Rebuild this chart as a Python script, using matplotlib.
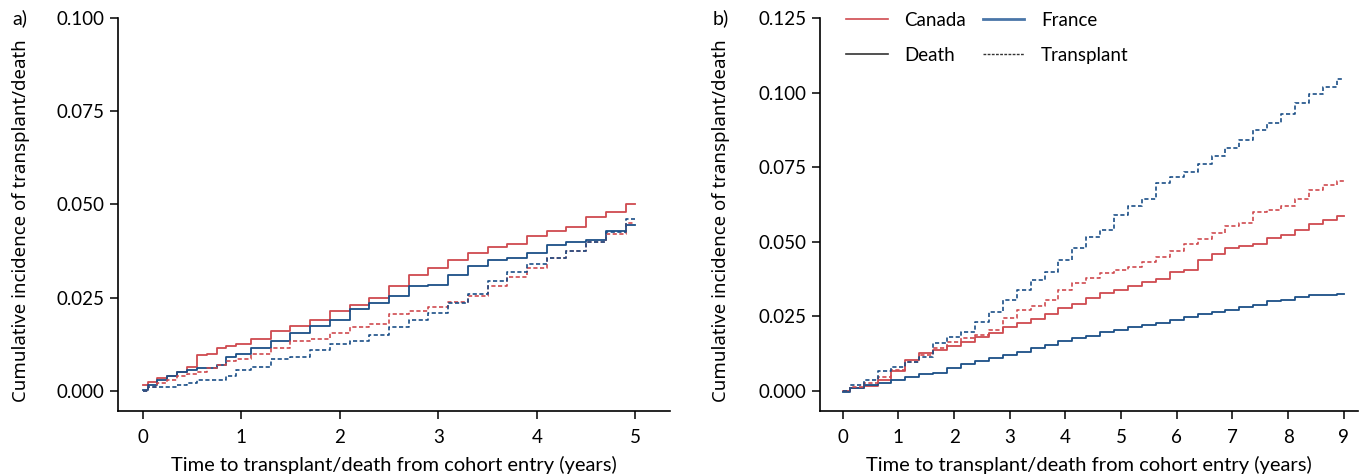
import matplotlib
matplotlib.use("Agg")
import matplotlib.pyplot as plt
from matplotlib.lines import Line2D

plt.rcParams['font.family'] = ['Lato', 'DejaVu Sans']

RED = "#cf4a4f"
BLUE = "#1b4f87"

# panel a: 5-year follow-up
a_time = [0, 0.1, 0.2, 0.3, 0.4, 0.5, 0.6, 0.7, 0.8, 0.9, 1.0, 1.2, 1.4, 1.6, 1.8,
          2.0, 2.2, 2.4, 2.6, 2.8, 3.0, 3.2, 3.4, 3.6, 3.8, 4.0, 4.2, 4.4, 4.6, 4.8, 5.0]
a_canada_death = [0.0015, 0.0025, 0.0035, 0.004, 0.005, 0.0065, 0.0095, 0.010, 0.0115, 0.012,
                  0.0125, 0.014, 0.016, 0.0175, 0.019, 0.0215, 0.023, 0.025, 0.028, 0.031,
                  0.033, 0.035, 0.037, 0.0385, 0.0395, 0.0415, 0.043, 0.044, 0.0465, 0.048, 0.050]
a_france_death = [0.0003, 0.0015, 0.003, 0.004, 0.005, 0.0055, 0.006, 0.006, 0.007, 0.009,
                  0.010, 0.0115, 0.0135, 0.0155, 0.0175, 0.019, 0.022, 0.0235, 0.0255, 0.028,
                  0.0285, 0.031, 0.0335, 0.035, 0.0355, 0.037, 0.039, 0.040, 0.0405, 0.043, 0.0445]
a_canada_tx = [0.0, 0.001, 0.002, 0.003, 0.004, 0.0045, 0.005, 0.006, 0.007, 0.008,
               0.0085, 0.010, 0.0115, 0.0135, 0.014, 0.0155, 0.017, 0.018, 0.0205, 0.0215,
               0.0225, 0.0238, 0.0255, 0.028, 0.0305, 0.033, 0.0355, 0.0375, 0.040, 0.042, 0.045]
a_france_tx = [0.0, 0.001, 0.001, 0.001, 0.0015, 0.002, 0.003, 0.003, 0.003, 0.004,
               0.0055, 0.0065, 0.0085, 0.009, 0.011, 0.0125, 0.0135, 0.015, 0.017, 0.019,
               0.021, 0.0235, 0.026, 0.0295, 0.032, 0.034, 0.0355, 0.0375, 0.040, 0.0425, 0.046]

# panel b: 9-year follow-up, read every quarter year
b_time = [0, 0.25, 0.5, 0.75, 1.0, 1.25, 1.5, 1.75, 2.0, 2.25, 2.5, 2.75, 3.0, 3.25, 3.5,
          3.75, 4.0, 4.25, 4.5, 4.75, 5.0, 5.25, 5.5, 5.75, 6.0, 6.25, 6.5, 6.75, 7.0,
          7.25, 7.5, 7.75, 8.0, 8.25, 8.5, 8.75, 9.0]
b_canada_death = [0.0, 0.0009, 0.0017, 0.0037, 0.0068, 0.0104, 0.0126, 0.0137, 0.0151, 0.0165,
                  0.0182, 0.0193, 0.0213, 0.0227, 0.0241, 0.0258, 0.0277, 0.0293, 0.031, 0.033,
                  0.0338, 0.0353, 0.0365, 0.0376, 0.040, 0.0405, 0.0439, 0.0459, 0.0478, 0.0487,
                  0.0493, 0.0512, 0.0523, 0.054, 0.056, 0.0573, 0.0588]
b_france_death = [-0.0005, 0.0009, 0.002, 0.0028, 0.0037, 0.0048, 0.0056, 0.0061, 0.0076, 0.009,
                  0.0102, 0.011, 0.0121, 0.0132, 0.0143, 0.0154, 0.0168, 0.0178, 0.0185, 0.0199,
                  0.0204, 0.0213, 0.022, 0.0229, 0.0238, 0.0247, 0.0258, 0.0266, 0.0271, 0.0283,
                  0.0287, 0.0303, 0.0306, 0.0316, 0.032, 0.0321, 0.0325]
b_canada_tx = [0.0, 0.0015, 0.0026, 0.0048, 0.007, 0.0098, 0.012, 0.0143, 0.0165, 0.0176,
               0.0188, 0.0204, 0.0244, 0.0271, 0.0285, 0.0305, 0.0337, 0.0363, 0.038, 0.0397,
               0.0405, 0.0417, 0.0433, 0.0448, 0.047, 0.0493, 0.0508, 0.0531, 0.0554, 0.0564,
               0.060, 0.0607, 0.062, 0.0642, 0.0674, 0.069, 0.0705]
b_france_tx = [0.0, 0.002, 0.0037, 0.0067, 0.0082, 0.0098, 0.0115, 0.016, 0.0182, 0.0199,
               0.0232, 0.0265, 0.0305, 0.0338, 0.0372, 0.040, 0.044, 0.048, 0.0515, 0.054,
               0.059, 0.062, 0.0642, 0.0696, 0.0718, 0.0735, 0.076, 0.0788, 0.0813, 0.0841,
               0.0875, 0.0899, 0.0928, 0.0964, 0.0995, 0.1018, 0.1045]

ylabel = "Cumulative incidence of transplant/death"
xlabel = "Time to transplant/death from cohort entry (years)"

fig = plt.figure(figsize=(13.7, 4.76), dpi=100)
ax_a = fig.add_axes([0.0861, 0.1366, 0.4029, 0.8256])
ax_b = fig.add_axes([0.5985, 0.1366, 0.3925, 0.8256])


def draw_panel(ax, t, cd, fd, ct, ft, label_x):
    ax.plot(t, cd, drawstyle="steps-mid", color=RED, lw=1.3)
    ax.plot(t, fd, drawstyle="steps-mid", color=BLUE, lw=1.3)
    ax.plot(t, ct, drawstyle="steps-mid", color=RED, lw=1.2, dashes=(2.5, 1.5))
    ax.plot(t, ft, drawstyle="steps-mid", color=BLUE, lw=1.2, dashes=(2.5, 1.5))
    for s in ["top", "right"]:
        ax.spines[s].set_visible(False)
    for s in ["left", "bottom"]:
        ax.spines[s].set_linewidth(1.2)
    ax.tick_params(direction="out", length=6, width=1.1, labelsize=13.5)
    ax.tick_params(axis="x", pad=7)
    ax.set_xlabel(xlabel, fontsize=14.5, labelpad=7)
    ax.set_ylabel(ylabel, fontsize=13.4, family=["Noto Sans", "DejaVu Sans"])
    ax.yaxis.set_label_coords(label_x, 0.485)


draw_panel(ax_a, a_time, a_canada_death, a_france_death, a_canada_tx, a_france_tx, -0.16)
ax_a.set_xlim(-0.25, 5.35)
ax_a.set_ylim(-0.0054, 0.1)
ax_a.set_xticks([0, 1, 2, 3, 4, 5])
ax_a.set_yticks([0, 0.025, 0.05, 0.075, 0.1])
ax_a.set_yticklabels(["0.000", "0.025", "0.050", "0.075", "0.100"])

draw_panel(ax_b, b_time, b_canada_death, b_france_death, b_canada_tx, b_france_tx, -0.167)
ax_b.set_xlim(-0.41, 9.25)
ax_b.set_ylim(-0.0067, 0.125)
ax_b.set_xticks(range(10))
ax_b.set_yticks([0, 0.025, 0.05, 0.075, 0.1, 0.125])
ax_b.set_yticklabels(["0.000", "0.025", "0.050", "0.075", "0.100", "0.125"])

handles = [
    Line2D([], [], color=RED, lw=1.2),
    Line2D([], [], color="#333333", lw=1.2),
    Line2D([], [], color="#4a76a8", lw=2),
    Line2D([], [], color="#333333", lw=1, dashes=(2, 1)),
]
names = ["Canada", "Death", "France", "Transplant"]
ax_b.legend(handles, names, ncol=2, loc="upper left", bbox_to_anchor=(0.035, 1.035),
            frameon=False, fontsize=13.5, handlelength=2.2, handletextpad=0.9,
            columnspacing=0.9, labelspacing=0.95, borderaxespad=0)

fig.text(0.009, 0.962, "a)", fontsize=14, va="center")
fig.text(0.520, 0.962, "b)", fontsize=14, va="center")

fig.savefig("out.png", dpi=100)
